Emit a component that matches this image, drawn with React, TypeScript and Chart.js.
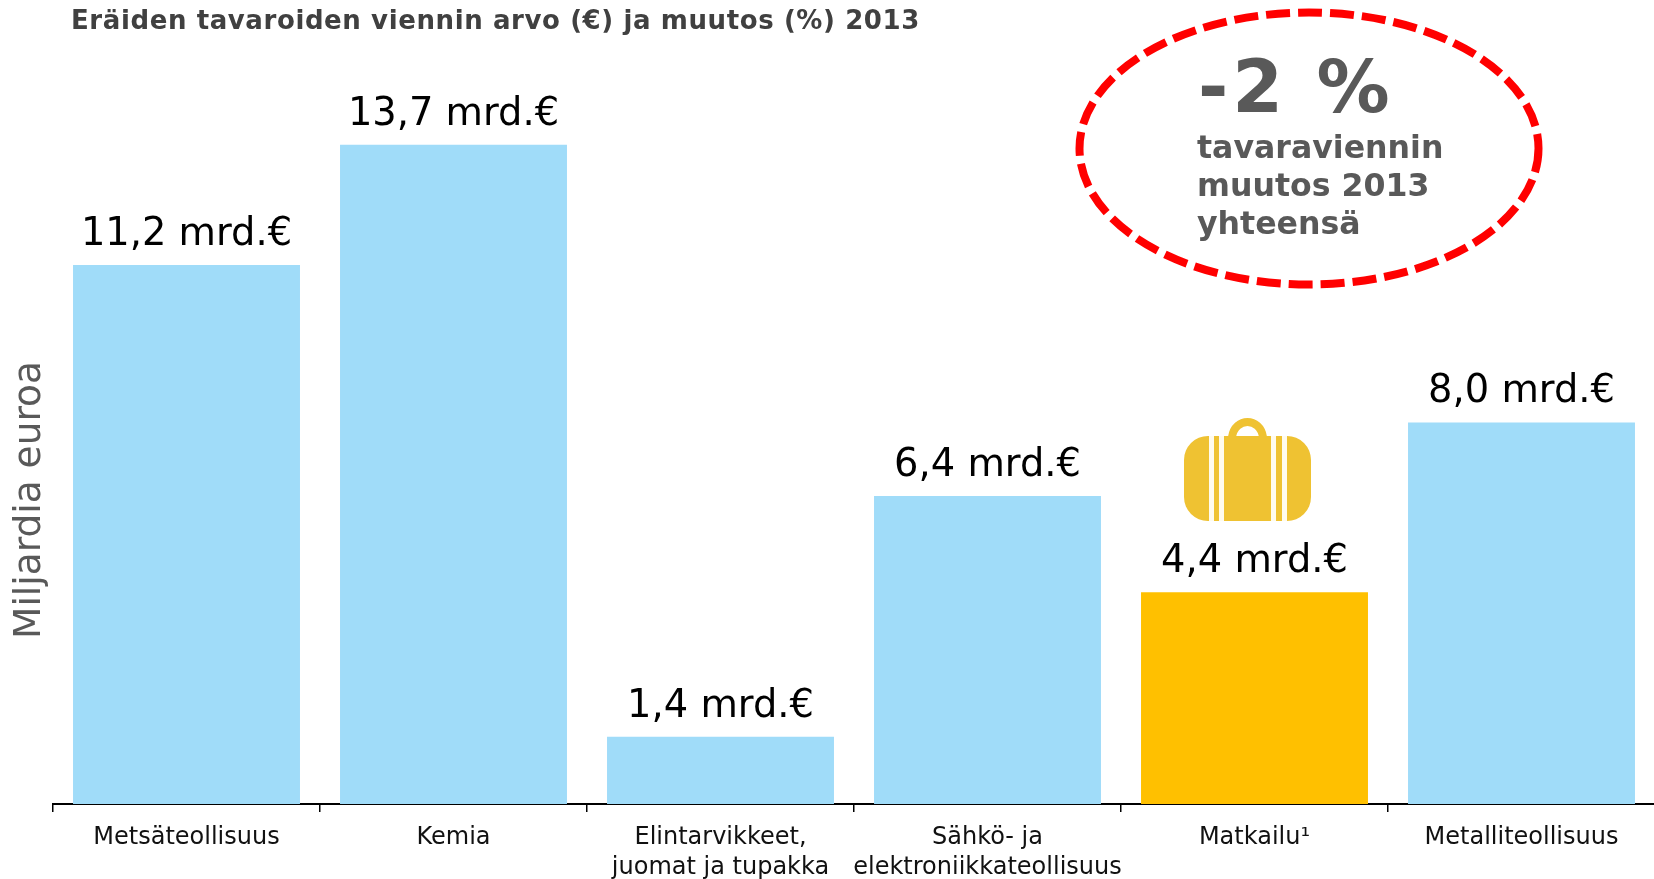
import React, { useEffect, useRef } from "react";
import { Chart, registerables } from "chart.js";

Chart.register(...registerables);

const categories: (string | string[])[] = [
  "Metsäteollisuus",
  "Kemia",
  ["Elintarvikkeet,", "juomat ja tupakka"],
  ["Sähkö- ja", "elektroniikkateollisuus"],
  "Matkailu¹",
  "Metalliteollisuus",
];
const values = [11.2, 13.7, 1.4, 6.4, 4.4, 7.93];
const valueLabels = ["11,2 mrd.€", "13,7 mrd.€", "1,4 mrd.€", "6,4 mrd.€", "4,4 mrd.€", "8,0 mrd.€"];
const barColors = ["#A0DCF9", "#A0DCF9", "#A0DCF9", "#A0DCF9", "#FFC000", "#A0DCF9"];
const titleText = "Eräiden tavaroiden viennin arvo (€) ja muutos (%) 2013";
const yTitle = "Miljardia euroa";
const calloutBig = "-2 %";
const calloutLines = ["tavaraviennin", "muutos 2013", "yhteensä"];

const FONT = '"DejaVu Sans", sans-serif';

const overlay = {
  id: "overlay",
  afterDatasetsDraw(chart: any) {
    const ctx = chart.ctx;
    const bars = chart.getDatasetMeta(0).data;
    ctx.save();
    // value labels
    ctx.fillStyle = "#000";
    ctx.font = `38.4px ${FONT}`;
    ctx.textAlign = "center";
    ctx.textBaseline = "alphabetic";
    bars.forEach((b: any, i: number) => ctx.fillText(valueLabels[i], b.x, b.y - 20));

    // title
    ctx.textAlign = "left";
    ctx.fillStyle = "#404040";
    ctx.font = `bold 26px ${FONT}`;
    ctx.letterSpacing = "0.6px";
    ctx.fillText(titleText, 71, 29);
    ctx.letterSpacing = "0px";

    // y title
    ctx.save();
    ctx.translate(40, 500);
    ctx.rotate(-Math.PI / 2);
    ctx.textAlign = "center";
    ctx.fillStyle = "#595959";
    ctx.font = `37.5px ${FONT}`;
    ctx.fillText(yTitle, 0, 0);
    ctx.restore();

    // callout
    ctx.strokeStyle = "#FF0000";
    ctx.lineWidth = 8;
    ctx.setLineDash([24, 8]);
    ctx.beginPath();
    ctx.ellipse(1309, 148.5, 229.5, 136, 0, 0, Math.PI * 2);
    ctx.stroke();
    ctx.setLineDash([]);
    ctx.fillStyle = "#595959";
    ctx.font = `bold 73px ${FONT}`;
    ctx.letterSpacing = "4px";
    ctx.fillText(calloutBig, 1198, 112);
    ctx.letterSpacing = "0px";
    ctx.font = `bold 31.6px ${FONT}`;
    calloutLines.forEach((t, i) => ctx.fillText(t, 1197, 158 + i * 38));

    // suitcase
    ctx.strokeStyle = "#EFC232";
    ctx.lineWidth = 8;
    ctx.beginPath();
    ctx.moveTo(1232, 437);
    ctx.bezierCurveTo(1235, 417, 1260, 417, 1263, 437);
    ctx.stroke();
    ctx.fillStyle = "#EFC232";
    ctx.beginPath();
    ctx.roundRect(1184, 436, 127, 85, 24);
    ctx.fill();
    ctx.fillStyle = "#FFFBEE";
    [1209, 1219, 1271, 1282].forEach((x) => ctx.fillRect(x, 436, 5, 85));
    ctx.restore();
  },
};

export default function App() {
  const ref = useRef<HTMLCanvasElement>(null);
  useEffect(() => {
    document.body.style.margin = "0";
    const chart = new Chart(ref.current!, {
      type: "bar",
      data: {
        labels: categories as any,
        datasets: [{ data: values, backgroundColor: barColors, categoryPercentage: 0.85, barPercentage: 1 }],
      },
      options: {
        animation: false,
        responsive: false,
        layout: { padding: { left: 53, right: 5, top: 10, bottom: 0 } },
        plugins: { legend: { display: false }, tooltip: { enabled: false }, title: { display: false } },
        scales: {
          x: {
            offset: true,
            afterFit: (scale: any) => { scale.height = 75; },
            grid: { offset: true, drawOnChartArea: false, drawTicks: true, tickLength: 8, color: "#000", lineWidth: 1.5 },
            border: { display: true, color: "#000", width: 2 },
            ticks: { color: "#111", font: { family: FONT, size: 24, lineHeight: 1.23 }, padding: 11, maxRotation: 0, minRotation: 0, autoSkip: false },
          },
          y: { display: false, min: 0, max: 16.5 },
        },
      },
      plugins: [overlay],
    });
    return () => chart.destroy();
  }, []);
  return (
    <div style={{ position: "fixed", left: 0, top: 0, width: 1654, height: 879, overflow: "hidden", background: "#fff" }}>
      <canvas ref={ref} width={1660} height={879} style={{ display: "block" }} />
    </div>
  );
}
